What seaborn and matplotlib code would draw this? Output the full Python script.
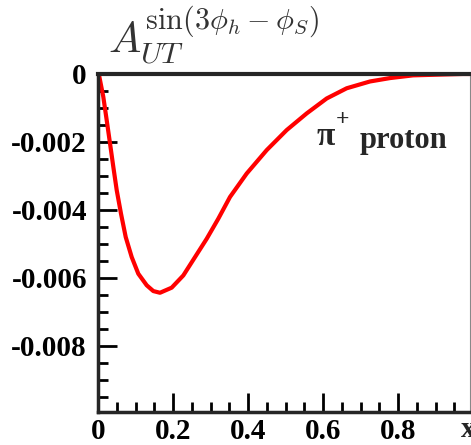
import matplotlib
matplotlib.use("Agg")
import matplotlib.pyplot as plt
import seaborn as sns
from matplotlib.ticker import MultipleLocator, FixedFormatter, FixedLocator

x_vals = [0.0, 0.0027, 0.0141, 0.0232, 0.032, 0.0408, 0.0499, 0.0613, 0.0739,
          0.0899, 0.1075, 0.1299, 0.1475, 0.1653, 0.1965, 0.2275, 0.2587, 0.2899,
          0.3208, 0.352, 0.3965, 0.4499, 0.5032, 0.5565, 0.6099, 0.6632, 0.7253,
          0.7787, 0.84, 0.904, 0.973, 0.992]
y_vals = [0.0, -0.00003, -0.00067, -0.00136, -0.00204, -0.00273, -0.00342, -0.00411,
          -0.0048, -0.00539, -0.00588, -0.00622, -0.00639, -0.00644, -0.00629,
          -0.00593, -0.00539, -0.00485, -0.00426, -0.00362, -0.00293, -0.00224,
          -0.00165, -0.00116, -0.00072, -0.00042, -0.00022, -0.00012, -0.00004,
          -0.00002, 0.0, 0.0]

x_ticks = [0, 0.2, 0.4, 0.6, 0.8]
x_tick_labels = ["0", "0.2", "0.4", "0.6", "0.8"]
y_ticks = [0, -0.002, -0.004, -0.006, -0.008]
y_tick_labels = ["0", "-0.002", "-0.004", "-0.006", "-0.008"]

sns.set_style("ticks")
plt.rcParams["mathtext.fontset"] = "cm"

fig = plt.figure(figsize=(4.71, 4.45), dpi=100)
ax = fig.add_axes([98 / 471, 33 / 445, 372 / 471, 338 / 445])

sns.lineplot(x=x_vals, y=y_vals, ax=ax, color="#ff0000", linewidth=3.0)

ax.set_xlim(0, 0.992)
ax.set_ylim(-0.00995, 0)

ax.xaxis.set_major_locator(FixedLocator(x_ticks))
ax.xaxis.set_major_formatter(FixedFormatter(x_tick_labels))
ax.yaxis.set_major_locator(FixedLocator(y_ticks))
ax.yaxis.set_major_formatter(FixedFormatter(y_tick_labels))
ax.xaxis.set_minor_locator(MultipleLocator(0.05))
ax.yaxis.set_minor_locator(MultipleLocator(0.0005))

ax.tick_params(which="both", direction="in", colors="black", top=False, right=False)
ax.tick_params(which="major", length=14, width=2)
ax.tick_params(axis="x", which="major", pad=4)
ax.tick_params(axis="y", which="major", pad=8)
ax.tick_params(which="minor", length=7, width=2)

for lab in ax.get_xticklabels() + ax.get_yticklabels():
    lab.set_fontfamily("Liberation Serif")
    lab.set_fontweight("bold")
    lab.set_fontsize(21)

ax.spines["left"].set_linewidth(2.5)
ax.spines["bottom"].set_linewidth(2.5)
ax.spines["top"].set_linewidth(3.0)
ax.spines["right"].set_linewidth(0.8)
ax.spines["right"].set_color("#888888")
for s in ax.spines.values():
    s.set_visible(True)

ax.set_xlabel("")
ax.set_ylabel("")

# label "pi+ proton"
ax.text(0.584, -0.00209, "π", fontsize=24, fontfamily="Liberation Serif",
        fontweight="bold", ha="left", va="baseline")
ax.text(0.633, -0.00150, "+", fontsize=17, fontfamily="Liberation Serif",
        fontweight="bold", ha="left", va="baseline")
ax.text(0.699, -0.00218, "proton", fontsize=22, fontfamily="Liberation Serif",
        fontweight="bold", ha="left", va="baseline")

fig.text(108 / 471, 1 - 54 / 445, r"$A_{UT}^{\sin(3\phi_h-\phi_S)}$", fontsize=31,
         ha="left", va="baseline", color="#333333")
fig.text(461 / 471, 1 - 437 / 445, "x", fontsize=21, fontfamily="Liberation Serif",
         fontweight="bold", ha="left", va="baseline")

fig.savefig("out.png", dpi=100)
